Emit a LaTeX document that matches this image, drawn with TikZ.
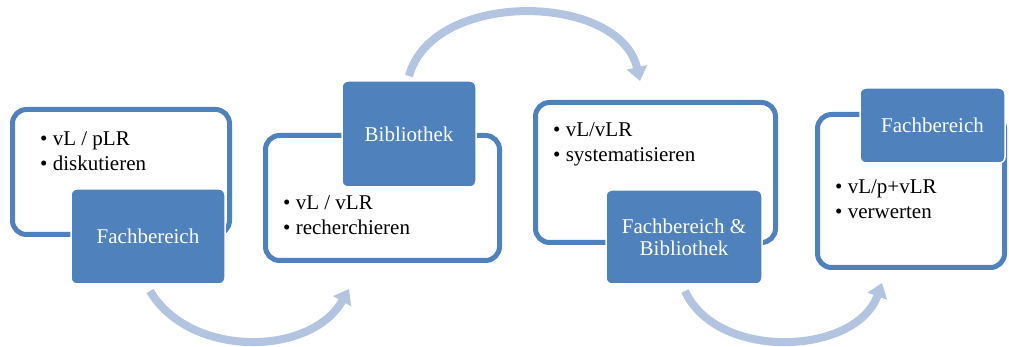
\documentclass[tikz,border=0pt]{standalone}
\usepackage{fontspec}
\setmainfont{Liberation Serif}
\usetikzlibrary{arrows.meta}

\definecolor{blau}{HTML}{4F81BD}
\definecolor{hellblau}{RGB}{178,196,224}

\tikzset{
  rahmen/.style={draw=blau, line width=5pt, rounded corners=14pt, fill=white},
  feld/.style={draw=white, line width=1.5pt, fill=blau, rounded corners=6pt,
    text=white, align=center, font=\fontsize{21}{22}\selectfont},
  liste/.style={anchor=north west, inner sep=0pt, align=left,
    font=\fontsize{21}{25}\selectfont},
  bogen/.style={draw=hellblau, line width=8pt, -{Triangle[width=20pt,length=14pt]}}
}

\begin{document}
\begin{tikzpicture}[x=1pt, y=-1pt]
    \useasboundingbox (0,0) rectangle (1009,347);

    % Bögen
    \coordinate (p1) at (150,291);
    \coordinate (p2) at (349,289);
    \coordinate (p3) at (409,76);
    \coordinate (p4) at (640,81);
    \coordinate (p5) at (685,291);
    \coordinate (p6) at (882,283);
    \draw[bogen] (p1) to[bend right=60] (p2);
    \draw[bogen] (p3) to[bend left=76] (p4);
    \draw[bogen] (p5) to[bend right=68] (p6);

    % Rahmen
    \node[rahmen, minimum width=217pt, minimum height=125pt] (r1) at (121,172) {};
    \node[rahmen, minimum width=234pt, minimum height=125pt] (r2) at (382.5,198) {};
    \node[rahmen, minimum width=240pt, minimum height=140pt] (r3) at (655.5,172.5) {};
    \node[rahmen, minimum width=187pt, minimum height=153pt] (r4) at (911,191) {};

    % Stichpunkte
    \node[liste] (t1) at (40,131) {• vL / pLR\\• diskutieren};
    \node[liste] (t2) at (283,195) {• vL / vLR\\• recherchieren};
    \node[liste] (t3) at (553,122) {• vL/vLR\\• systematisieren};
    \node[liste] (t4) at (835,179) {• vL/p+vLR\\• verwerten};

    % Akteure
    \node[feld, minimum width=154pt, minimum height=95pt] (f1) at (148,236.5) {Fachbereich};
    \node[feld, minimum width=134pt, minimum height=106pt] (f2) at (409,134) {Bibliothek};
    \node[feld, minimum width=156pt, minimum height=94pt] (f3) at (684,237) {Fachbereich \&\\Bibliothek};
    \node[feld, minimum width=145pt, minimum height=75pt] (f4) at (932.5,125.5) {Fachbereich};

\end{tikzpicture}
\end{document}
